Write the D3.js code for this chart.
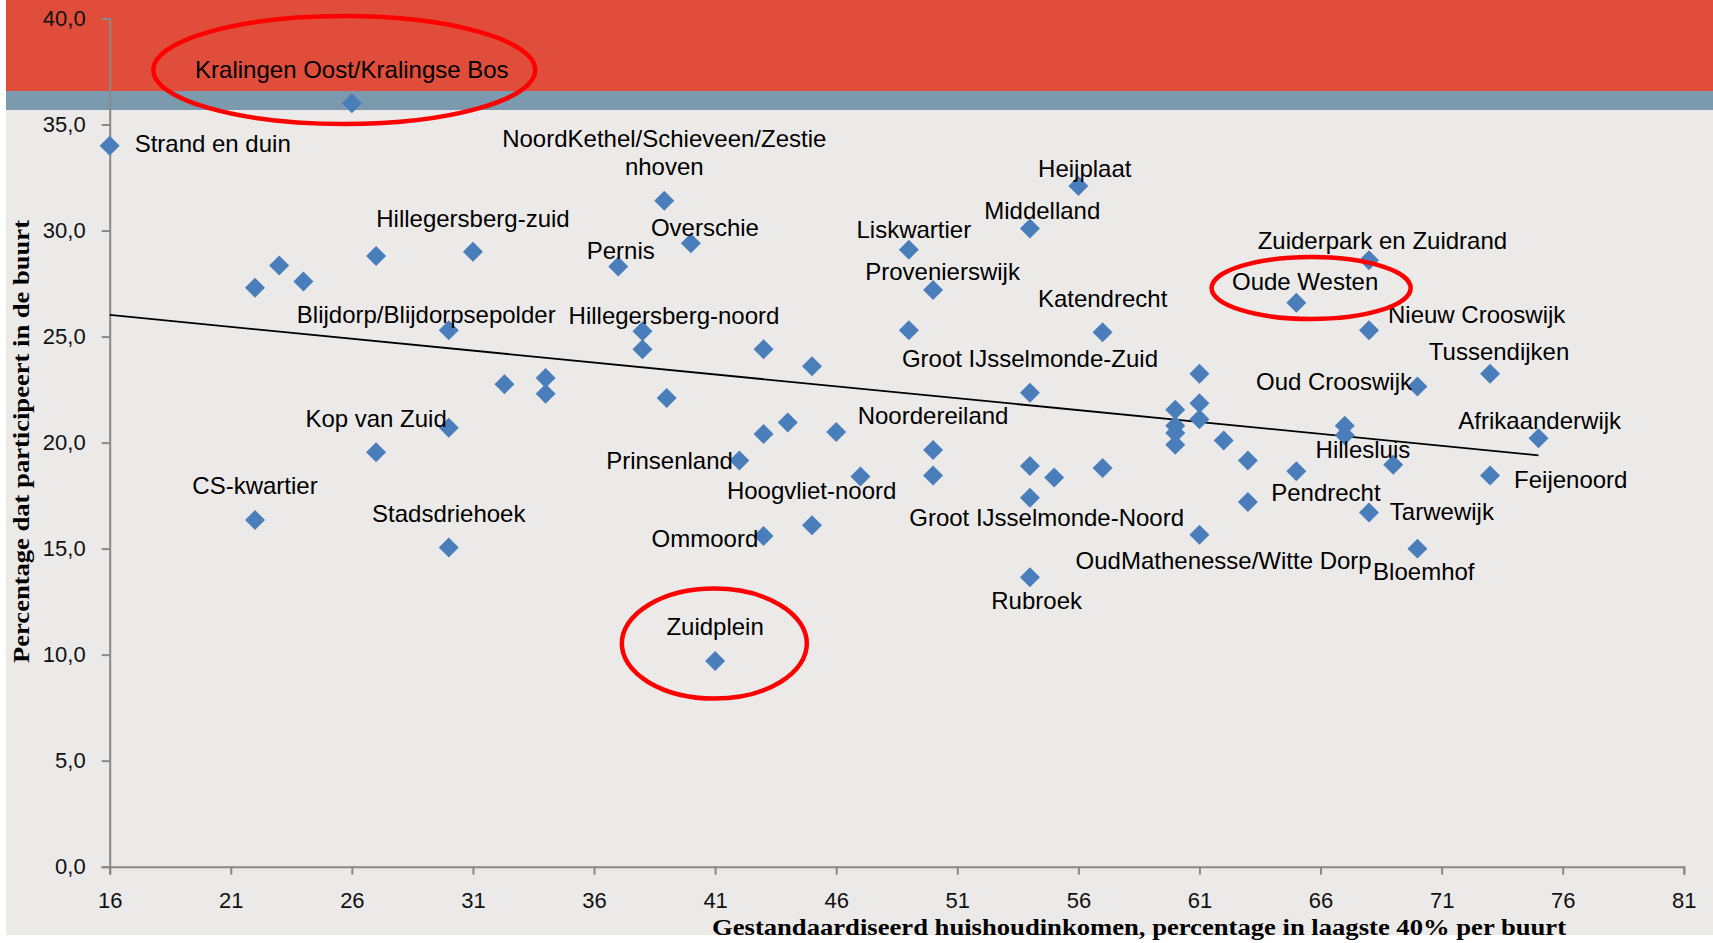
<!DOCTYPE html>
<html>
<head>
<meta charset="utf-8">
<script src="https://cdn.jsdelivr.net/npm/d3@7"></script>
<style>
  body{margin:0;background:#fff;}
  .lbl{font-family:"Liberation Sans",Arial,sans-serif;font-size:24px;fill:#000;}
  .tick text{font-family:"Liberation Sans",Arial,sans-serif;font-size:22px;fill:#111;}
  .title{font-family:"Liberation Serif","Times New Roman",serif;font-size:24px;font-weight:bold;fill:#000;}
</style>
</head>
<body>
<svg id="chart"></svg>
<script>
// buurten, "" = point without label
var buurten=["Strand en duin","Kralingen Oost/Kralingse Bos","","","","","Hillegersberg-zuid","Blijdorp/Blijdorpsepolder","","","","","Kop van Zuid","CS-kwartier","Stadsdriehoek",
  "NoordKethel/Schieveen/Zestie\nnhoven","Overschie","Pernis","Hillegersberg-noord","","","","","","","","Prinsenland","Hoogvliet-noord","","Ommoord","Zuidplein",
  "Liskwartier","Provenierswijk","","Middelland","Heijplaat","Katendrecht","Groot IJsselmonde-Zuid","Noordereiland","","","","","Groot IJsselmonde-Noord","Rubroek",
  "","","","","","","","","","","OudMathenesse/Witte Dorp","Pendrecht","Oude Westen","Zuiderpark en Zuidrand","Nieuw Crooswijk","Oud Crooswijk","Tussendijken",
  "","","Hillesluis","Tarwewijk","Bloemhof","Feijenoord","Afrikaanderwijk"];
var inkomen=[16,26,22,23,24,27,31,30,32.3,34,34,30,27,22,30,
  38.9,40,37,38,38,43,45,39,44,43,46,42,47,45,43,41,
  49,50,49,54,56,57,54,50,50,54,55,57,54,54,
  60,60,60,60,61,61,61,62,63,63,61,65,65,68,68,70,73,
  67,67,69,68,70,73,75];
var participatie=[34.0,36.0,27.3,28.35,27.6,28.8,29.0,25.3,22.75,23.05,22.3,20.7,19.55,16.35,15.05,
  31.4,29.4,28.3,25.25,24.4,24.4,23.6,22.1,20.95,20.4,20.5,19.15,18.4,16.1,15.6,9.7,
  29.1,27.2,25.3,30.1,32.1,25.2,22.35,19.65,18.45,18.9,18.35,18.8,17.4,13.65,
  21.55,20.8,20.45,19.9,23.25,21.85,21.1,20.1,19.15,17.2,15.65,18.65,26.6,28.6,25.3,22.65,23.25,
  20.8,20.35,18.95,16.7,15.0,18.45,20.2];
var trendX=[16,75];
var trendY=[26.02,19.4];
var xTicks=[16,21,26,31,36,41,46,51,56,61,66,71,76,81];
var yTicks=[0,5,10,15,20,25,30,35,40];
var omcirkeld=["Kralingen Oost/Kralingse Bos","Zuidplein","Oude Westen"];

// layout: label offsets in px (center x, baseline y) relative to the point
var labelOffset={
  "Strand en duin":[103,6.4],
  "Kralingen Oost/Kralingse Bos":[0,-25.6],
  "Hillegersberg-zuid":[0,-25],
  "Blijdorp/Blijdorpsepolder":[-22.5,-7.4],
  "Kop van Zuid":[0,-25],
  "CS-kwartier":[0,-26],
  "Stadsdriehoek":[0,-26],
  "NoordKethel/Schieveen/Zestie\nnhoven":[0,-26],
  "Overschie":[14,-7],
  "Pernis":[2.5,-7.7],
  "Hillegersberg-noord":[31.5,-7.2],
  "Prinsenland":[-69.8,8],
  "Hoogvliet-noord":[-48.8,22.3],
  "Ommoord":[-58.6,10.7],
  "Zuidplein":[0,-26],
  "Liskwartier":[5,-12],
  "Provenierswijk":[9.5,-9.5],
  "Middelland":[12.3,-9],
  "Heijplaat":[6.4,-9.3],
  "Katendrecht":[0,-25.5],
  "Groot IJsselmonde-Zuid":[0,-26],
  "Noordereiland":[0,-26],
  "Groot IJsselmonde-Noord":[16.7,28.4],
  "Rubroek":[6.7,31.6],
  "OudMathenesse/Witte Dorp":[24.2,34],
  "Pendrecht":[29.6,29.5],
  "Oude Westen":[8.8,-12.5],
  "Zuiderpark en Zuidrand":[13.4,-11.5],
  "Nieuw Crooswijk":[107.7,-7.4],
  "Oud Crooswijk":[-83.4,3.3],
  "Tussendijken":[9,-14],
  "Hillesluis":[-30.3,-6.7],
  "Tarwewijk":[72.9,7],
  "Bloemhof":[6.4,31.5],
  "Feijenoord":[80.7,13],
  "Afrikaanderwijk":[1.2,-9.4]
};
// ellipse: [dx, dy, rx, ry] relative to the point
var ellipseShape={
  "Kralingen Oost/Kralingse Bos":[-7.6,-33.3,191,54],
  "Zuidplein":[-0.8,-17.4,92.5,55],
  "Oude Westen":[14.8,-14.6,99.5,31]
};

var w=1713;
var h=943;
var plot={left:109.7,right:1683.8,top:18.5,bottom:866.7};

var data=buurten.map(function(n,i){return {naam:n,x:inkomen[i],y:participatie[i]};});

var svg=d3.select("#chart")
          .attr("width",w)
          .attr("height",h);

var xScale=d3.scaleLinear()
             .domain([16,81])
             .range([plot.left,plot.right]);
var yScale=d3.scaleLinear()
             .domain([0,40])
             .range([plot.bottom,plot.top]);

// background + bands
svg.append("rect").attr("x",6).attr("y",0).attr("width",w-6).attr("height",935).attr("fill","#ebeae8");
svg.append("rect").attr("x",6).attr("y",0).attr("width",w-6).attr("height",91).attr("fill","#e04e3b");
svg.append("rect").attr("x",6).attr("y",91).attr("width",w-6).attr("height",19).attr("fill","#7b9aae");

var fmt=function(d){return d.toFixed(1).replace(".",",");};

var yAxis=d3.axisLeft(yScale).tickValues(yTicks).tickFormat(fmt).tickSize(8).tickPadding(16);
var xAxis=d3.axisBottom(xScale).tickValues(xTicks).tickFormat(d3.format("d")).tickSize(8).tickPadding(18);

var gy=svg.append("g")
   .classed("yAxis",true)
   .attr("transform","translate("+plot.left+",0)")
   .call(yAxis);
var gx=svg.append("g")
   .classed("xAxis",true)
   .attr("transform","translate(0,"+plot.bottom+")")
   .call(xAxis);
[gx,gy].forEach(function(g){
  g.select(".domain").attr("stroke","#898989").attr("stroke-width",2);
  g.selectAll(".tick line").attr("stroke","#898989").attr("stroke-width",2);
});

// trend line
var line=d3.line()
           .x(function(d){return xScale(d[0]);})
           .y(function(d){return yScale(d[1]);});
svg.append("path")
   .datum(trendX.map(function(v,i){return [v,trendY[i]];}))
   .attr("fill","none")
   .attr("stroke","#000")
   .attr("stroke-width",1.8)
   .attr("d",line);

// points
var diamond=d3.symbol().type(d3.symbolSquare).size(200);
svg.append("g").selectAll("path")
   .data(data)
   .enter()
   .append("path")
   .attr("d",diamond)
   .attr("fill","#4a7ebb")
   .attr("transform",function(d){return "translate("+xScale(d.x)+","+yScale(d.y)+") rotate(45)";});

// labels
var lab=svg.append("g").selectAll("text")
   .data(data.filter(function(d){return d.naam!=="";}))
   .enter()
   .append("text")
   .classed("lbl",true)
   .attr("text-anchor","middle");
lab.each(function(d){
  var off=labelOffset[d.naam]||[0,-26];
  var lines=d.naam.split("\n");
  var t=d3.select(this);
  lines.forEach(function(s,k){
    t.append("tspan")
     .attr("x",xScale(d.x)+off[0])
     .attr("y",yScale(d.y)+off[1]-(lines.length-1-k)*28.3)
     .text(s);
  });
});

// red circles
svg.append("g").selectAll("ellipse")
   .data(data.filter(function(d){return omcirkeld.indexOf(d.naam)>=0;}))
   .enter()
   .append("ellipse")
   .attr("cx",function(d){return xScale(d.x)+ellipseShape[d.naam][0];})
   .attr("cy",function(d){return yScale(d.y)+ellipseShape[d.naam][1];})
   .attr("rx",function(d){return ellipseShape[d.naam][2];})
   .attr("ry",function(d){return ellipseShape[d.naam][3];})
   .attr("fill","none")
   .attr("stroke","#ff0000")
   .attr("stroke-width",4.5);

// axis titles
svg.append("text")
   .classed("title",true)
   .attr("x",712)
   .attr("y",935)
   .attr("textLength",854)
   .attr("lengthAdjust","spacingAndGlyphs")
   .text("Gestandaardiseerd huishoudinkomen, percentage in laagste 40% per buurt");
svg.append("text")
   .classed("title",true)
   .attr("transform","translate(29,663) rotate(-90)")
   .attr("textLength",443)
   .attr("lengthAdjust","spacingAndGlyphs")
   .text("Percentage dat participeert in de buurt");
</script>
</body>
</html>
